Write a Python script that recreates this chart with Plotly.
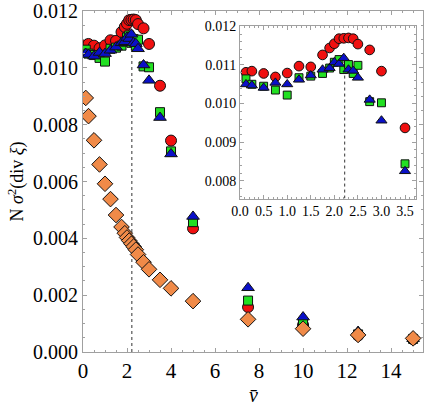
import plotly.graph_objects as go

# ---- data ----
nu = [0.125, 0.25, 0.5, 0.75, 1.0, 1.25, 1.5, 1.75, 1.9, 2.0, 2.1, 2.2, 2.3, 2.4, 2.5,
      2.75, 3.0, 3.5, 4.0, 5.0, 7.5, 10.0, 12.5, 15.0]
red = [0.01081, 0.01084, 0.01078, 0.01069, 0.01079, 0.01097, 0.01095, 0.01126, 0.01144,
       0.01155, 0.01168, 0.01169, 0.01170, 0.01168, 0.01154, 0.01139, 0.01084, 0.00937,
       0.00744, 0.00435, 0.00158, 0.00095, 0.00058, 0.00045]
green = [0.01064, 0.01050, 0.01045, 0.01035, 0.01022, 0.01067, 0.01071, 0.01078, 0.01092,
         0.01107, 0.01114, 0.01088, 0.01101, 0.01078, 0.01099, 0.01005, 0.01002, 0.00844,
         0.00706, 0.00457, 0.00181, 0.00102, 0.00062, 0.00046]
blue = [0.01050, 0.01047, 0.01041, 0.01054, 0.01050, 0.01062, 0.01073, 0.01088, 0.01092,
        0.01107, 0.01103, 0.01118, 0.01088, 0.01085, 0.01067, 0.01010, 0.00956, 0.00825,
        0.00697, 0.00477, 0.00226, 0.00123, 0.00072, 0.00047]
orange = [0.00894, 0.00830, 0.00745, 0.00660, 0.00592, 0.00538, 0.00482, 0.00440, 0.00418,
          0.00403, 0.00392, 0.00381, 0.00371, 0.00360, 0.00343, 0.00316, 0.00291, 0.00254,
          0.00224, 0.00179, 0.00115, 0.00082, 0.00060, 0.00048]
nu_c = 2.22
main_xticks = [0, 2, 4, 6, 8, 10, 12, 14]
main_yticks = [0.0, 0.002, 0.004, 0.006, 0.008, 0.010, 0.012]
inset_xticks = [0.0, 0.5, 1.0, 1.5, 2.0, 2.5, 3.0, 3.5]
inset_yticks = [0.008, 0.009, 0.010, 0.011, 0.012]

C_RED = "#f01010"
C_GREEN = "#22e022"
C_BLUE = "#0a10c8"
C_ORANGE = "#f08a48"
FONT = "Liberation Serif, Times New Roman, serif"

fig = go.Figure()

def add_series(xa, ya, y, color, symbol, size):
    fig.add_trace(go.Scatter(x=nu, y=y, mode="markers", xaxis=xa, yaxis=ya,
                             marker=dict(color=color, symbol=symbol, size=size,
                                         line=dict(color="#111", width=1)),
                             showlegend=False))

for xa, ya, inset in [("x", "y", False), ("x2", "y2", True)]:
    sz = 0.88 if inset else 1.0
    add_series(xa, ya, red, C_RED, "circle", 11 * sz)
    add_series(xa, ya, green, C_GREEN, "square", 9 * sz)
    add_series(xa, ya, blue, C_BLUE, "triangle-up", 11 * sz)
    if not inset:
        add_series(xa, ya, orange, C_ORANGE, "diamond", 12)

axcol = "#a0a0a0"
common = dict(showgrid=False, zeroline=False, showline=True, linecolor=axcol, linewidth=1,
              mirror="allticks", ticks="inside", tickcolor=axcol, ticklen=4, automargin=False,
              ticklabeloverflow="allow")

fig.update_layout(
    width=429, height=406,
    margin=dict(l=83, r=6, t=11, b=54),
    paper_bgcolor="white", plot_bgcolor="white",
    font=dict(family=FONT, color="black"),
    xaxis=dict(range=[0, 15.45], tickvals=main_xticks, ticktext=[str(t) for t in main_xticks],
               minor=dict(dtick=0.5, ticks="inside", ticklen=2, tickcolor=axcol),
               tickfont=dict(family=FONT, size=21, color="black"), **common),
    yaxis=dict(range=[0, 0.012], tickvals=main_yticks,
               ticktext=[f"{t:.3f}" for t in main_yticks],
               minor=dict(dtick=0.0005, ticks="inside", ticklen=2, tickcolor=axcol),
               title=dict(text="N <i>σ</i><sup>2</sup>(div <i>ξ</i>)", font=dict(size=18, family=FONT), standoff=4),
               tickfont=dict(family=FONT, size=20, color="black"), **common),
    xaxis2=dict(domain=[0.462, 0.979], anchor="y2", range=[0, 3.73], tickvals=inset_xticks,
                ticktext=[f"{t:.1f}" for t in inset_xticks],
                minor=dict(dtick=0.1, ticks="inside", ticklen=2, tickcolor=axcol),
                tickfont=dict(family=FONT, size=14, color="black"), **common),
    yaxis2=dict(domain=[0.45, 0.955], anchor="x2", range=[0.00754, 0.012], tickvals=inset_yticks,
                ticktext=[f"{t:.3f}" for t in inset_yticks],
                minor=dict(dtick=0.0002, ticks="inside", ticklen=2, tickcolor=axcol),
                tickfont=dict(family=FONT, size=14, color="black"), **common),
)

fig.add_annotation(text="<i>v\u0304</i>", xref="paper", yref="paper", x=0.5, y=-0.125,
                   xanchor="center", yanchor="middle", showarrow=False,
                   font=dict(family=FONT, size=20, color="black"))

fig.add_shape(type="line", xref="x", yref="y", x0=nu_c, x1=nu_c, y0=0, y1=0.0108,
              line=dict(color="#333", width=1, dash="3px,3px"), layer="below")
fig.add_shape(type="line", xref="x2", yref="y2", x0=nu_c, x1=nu_c, y0=0.00754, y1=0.0108,
              line=dict(color="#333", width=1, dash="3px,3px"), layer="below")

fig.write_html("out.html")
